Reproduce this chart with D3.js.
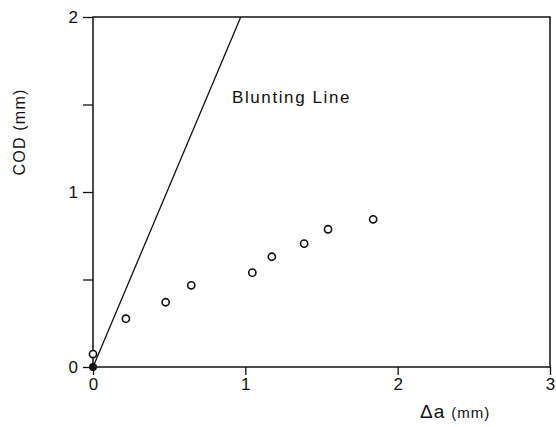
<!DOCTYPE html>
<html>
<head>
<meta charset="utf-8">
<script src="https://cdn.jsdelivr.net/npm/d3@7"></script>
<style>
  body { margin: 0; background: #fff; }
  svg { display: block; }
  text { font-family: "Liberation Sans", Arial, sans-serif; fill: #111; }
</style>
</head>
<body>
<div id="vis"></div>
<script>
// data
var crackGrowth = [0.00, 0.216, 0.477, 0.645, 1.046, 1.174, 1.386, 1.543, 1.839];
var codValues   = [0.074, 0.276, 0.37, 0.467, 0.539, 0.63, 0.705, 0.787, 0.844];
var originPoint = [[0, 0]];
var bluntingLine = [[0, 0], [0.97, 2]];
var xTicks = [0, 1, 2, 3];
var yTicks = [0, 0.5, 1, 1.5, 2];

var width = 556;
var height = 427;
var margin = { top: 17, right: 6, bottom: 60, left: 93 };

var svg = d3.select('#vis').append('svg')
  .attr('width', width)
  .attr('height', height);

var x = d3.scaleLinear().domain([0, 3]).range([margin.left, width - margin.right]);
var y = d3.scaleLinear().domain([0, 2]).range([height - margin.bottom, margin.top]);

// frame
svg.append('rect')
  .attr('x', x(0)).attr('y', y(2))
  .attr('width', x(3) - x(0)).attr('height', y(0) - y(2))
  .attr('fill', 'none').attr('stroke', '#111').attr('stroke-width', 1.5);

// axes
var xAxis = d3.axisBottom(x).tickValues(xTicks).tickSize(8).tickPadding(3)
  .tickFormat(d3.format('d'));
var yAxis = d3.axisLeft(y).tickValues(yTicks).tickSize(10).tickPadding(5)
  .tickFormat(function (d) { return d % 1 === 0 ? d : ''; });

var gx = svg.append('g').attr('transform', 'translate(0,' + y(0) + ')').call(xAxis);
var gy = svg.append('g').attr('transform', 'translate(' + x(0) + ',0)').call(yAxis);

[gx, gy].forEach(function (g) {
  g.select('.domain').remove();
  g.selectAll('line').attr('stroke', '#111').attr('stroke-width', 1.3);
  g.selectAll('text').attr('font-size', 17)
    .attr('font-family', '"Liberation Sans", Arial, sans-serif').attr('fill', '#111');
});

// blunting line
svg.append('path')
  .datum(bluntingLine)
  .attr('d', d3.line().x(function (d) { return x(d[0]); }).y(function (d) { return y(d[1]); }))
  .attr('fill', 'none').attr('stroke', '#111').attr('stroke-width', 1.3);

svg.append('text')
  .attr('x', 232).attr('y', 103)
  .attr('font-size', 17)
  .attr('letter-spacing', 1.6)
  .text('Blunting Line');

// measured points
svg.selectAll('.pt')
  .data(d3.zip(crackGrowth, codValues))
  .enter().append('circle')
  .attr('class', 'pt')
  .attr('cx', function (d) { return x(d[0]); })
  .attr('cy', function (d) { return y(d[1]); })
  .attr('r', 3.6)
  .attr('fill', '#fff').attr('stroke', '#111').attr('stroke-width', 1.6);

svg.selectAll('.origin')
  .data(originPoint)
  .enter().append('circle')
  .attr('class', 'origin')
  .attr('cx', function (d) { return x(d[0]); })
  .attr('cy', function (d) { return y(d[1]); })
  .attr('r', 4)
  .attr('fill', '#111');

// axis titles
var xt = svg.append('text')
  .attr('x', 420).attr('y', 418);
xt.append('tspan').attr('font-size', 19).attr('letter-spacing', 1).text('Δa');
xt.append('tspan').attr('font-size', 15).attr('dx', 6).attr('letter-spacing', 1).text('(mm)');

svg.append('text')
  .attr('transform', 'translate(25,132) rotate(-90)')
  .attr('text-anchor', 'middle')
  .attr('font-size', 16)
  .attr('letter-spacing', 1.2)
  .text('COD (mm)');
</script>
</body>
</html>
